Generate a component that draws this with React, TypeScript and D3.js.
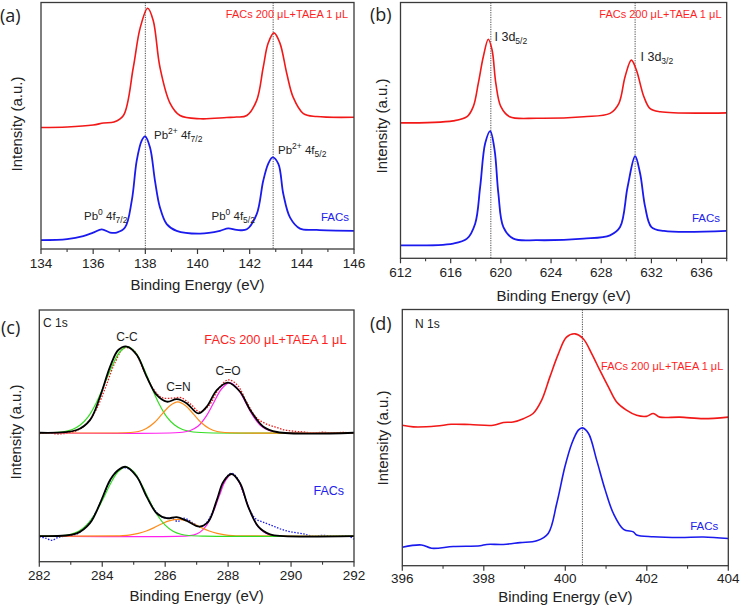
import React from "react";
import * as d3 from "d3";

type P = [number, number];

// ---------- Panel (a): Pb 4f ----------
const aTicks = [134, 136, 138, 140, 142, 144, 146];
const aMinor = [135, 137, 139, 141, 143, 145];
const aRefLines = [138.0, 142.9];
const aRed: P[] = [
  [134, 48.8], [135, 49.0], [136, 49.8], [136.4, 50.6], [136.8, 51.0], [137.16, 53.6],
  [137.54, 73.0], [137.8, 88.7], [138.09, 96.7], [138.3, 91.9], [138.56, 73.0],
  [138.95, 58.5], [139.33, 53.6], [140.1, 52.3], [141.12, 52.8], [141.5, 53.0],
  [141.89, 53.6], [142.27, 59.7], [142.52, 73.0], [142.71, 82.7], [142.93, 86.8],
  [143.16, 82.7], [143.42, 70.6], [143.67, 60.9], [144.06, 54.4], [144.57, 53.2], [146, 52.9],
];
const aBlue: P[] = [
  [134, 3.6], [135, 4.0], [135.62, 5.2], [136.0, 6.6], [136.33, 7.9], [136.65, 6.6],
  [136.9, 6.6], [137.22, 8.6], [137.48, 19.4], [137.67, 35.5], [137.86, 43.5],
  [137.99, 45.2], [138.18, 40.8], [138.37, 27.4], [138.56, 16.7], [138.82, 10.0],
  [139.2, 7.3], [140.1, 6.2], [140.86, 7.3], [141.18, 8.3], [141.5, 7.7], [141.89, 7.9],
  [142.27, 14.0], [142.52, 27.4], [142.71, 34.2], [142.88, 36.8], [143.1, 34.2],
  [143.29, 22.1], [143.55, 12.6], [143.93, 8.2], [144.57, 7.7], [146, 7.3],
];

// ---------- Panel (b): I 3d ----------
const bTicks = [612, 616, 620, 624, 628, 632, 636];
const bMinor = [614, 618, 622, 626, 630, 634, 638];
const bRefLines = [619.2, 630.7];
const bRed: P[] = [
  [612, 52.4], [616.2, 53.2], [617.3, 54.8], [617.8, 58.7], [618.2, 67.7], [618.6, 78.0],
  [619.0, 84.8], [619.3, 80.6], [619.6, 67.7], [620.0, 58.7], [620.7, 54.8], [622.9, 54.2],
  [626.6, 54.8], [628.7, 56.1], [629.4, 59.9], [629.9, 70.3], [630.4, 76.7], [630.8, 72.9],
  [631.4, 62.5], [631.9, 57.9], [632.7, 56.7], [638, 56.3],
];
const bBlue: P[] = [
  [612, 5.0], [616.2, 5.7], [617.3, 7.6], [617.95, 13.4], [618.35, 27.6], [618.75, 44.5],
  [619.15, 49.2], [619.5, 41.9], [619.8, 25.1], [620.2, 12.1], [621.0, 7.6], [622.9, 7.0],
  [626.6, 7.6], [628.7, 8.9], [629.5, 12.1], [630.1, 27.6], [630.7, 39.5], [631.1, 32.8],
  [631.5, 19.9], [632.0, 12.1], [633.0, 10.6], [638, 10.6],
];

// ---------- Panel (c): C 1s ----------
const cTicks = [282, 284, 286, 288, 290, 292];
const cMinor = [283, 285, 287, 289, 291];
const cTopData: P[] = [
  [282, 51.6], [282.3, 51.9], [282.6, 51.4], [282.9, 51.8], [283.2, 52.8], [283.5, 55.5],
  [283.8, 61], [284.1, 70], [284.4, 80], [284.7, 86], [285.0, 85], [285.3, 77.5],
  [285.6, 70], [285.9, 66], [286.2, 65.8], [286.5, 66], [286.8, 63.5], [287.1, 60.3],
  [287.4, 63], [287.7, 69.5], [288.0, 73.2], [288.3, 71], [288.6, 64], [288.9, 58],
  [289.2, 55.5], [289.5, 54.2], [289.8, 53], [290.1, 52.5], [290.4, 52.2], [290.7, 51.8],
  [291.0, 52.1], [291.3, 51.8], [291.6, 52], [292, 51.9],
];
const cTopFit: P[] = [
  [282, 51.9], [283.19, 53.0], [283.61, 57.0], [283.93, 66.4], [284.25, 78.5],
  [284.51, 85.2], [284.78, 86.6], [285.1, 83.2], [285.41, 74.5], [285.73, 67.1],
  [286.05, 64.4], [286.37, 65.4], [286.68, 63.8], [287.05, 59.7], [287.32, 62.4],
  [287.64, 69.1], [288.0, 72.1], [288.38, 68.4], [288.7, 61.1], [289.12, 54.3],
  [289.55, 52.2], [292, 51.9],
];
const cTopCC: P[] = [
  [282, 51.9], [282.3, 51.9], [282.8, 52.4], [283.05, 53.2], [283.3, 55.0], [283.55, 58.3],
  [283.8, 63.7], [284.05, 70.8], [284.3, 78.4], [284.55, 84.3], [284.8, 86.6], [285.05, 84.3],
  [285.3, 78.4], [285.55, 70.8], [285.8, 63.7], [286.05, 58.3], [286.3, 55.0], [286.55, 53.2],
  [286.8, 52.4], [287.3, 51.9], [292, 51.9],
];
const cTopCN: P[] = [
  [282, 51.9], [284.9, 52.0], [285.15, 52.4], [285.4, 53.6], [285.65, 55.9], [285.9, 59.4],
  [286.15, 62.8], [286.4, 64.3], [286.65, 62.8], [286.9, 59.4], [287.15, 55.9], [287.4, 53.6],
  [287.65, 52.4], [287.9, 52.0], [292, 51.9],
];
const cTopCO: P[] = [
  [282, 51.9], [286.55, 52.1], [286.8, 52.8], [287.05, 54.6], [287.3, 58.5], [287.55, 64.2],
  [287.8, 69.7], [288.05, 72.1], [288.3, 69.7], [288.55, 64.2], [288.8, 58.5], [289.05, 54.6],
  [289.3, 52.8], [289.55, 52.1], [292, 51.9],
];
const cBotData: P[] = [
  [282, 10.0], [282.2, 9.5], [282.4, 8.6], [282.6, 9.8], [282.9, 10.4], [283.2, 11.2],
  [283.5, 14.5], [283.8, 20], [284.1, 28.5], [284.4, 35.5], [284.7, 37.8], [285.0, 36],
  [285.3, 29.5], [285.6, 22], [285.9, 18], [286.2, 17.5], [286.4, 16.2], [286.6, 17.5],
  [286.9, 15.5], [287.1, 14.0], [287.3, 15.5], [287.5, 20], [287.7, 27], [287.9, 33],
  [288.1, 35.6], [288.3, 33.5], [288.5, 27], [288.7, 20.5], [288.9, 17], [289.1, 16],
  [289.4, 14.5], [289.7, 13], [290.0, 12.0], [290.4, 11.2], [290.7, 10.2], [291.0, 10.6],
  [291.4, 10.2], [291.8, 10.4], [292, 9.0],
];
const cBotFit: P[] = [
  [282, 10.3], [283.19, 11.4], [283.61, 15.5], [283.93, 23.5], [284.25, 32.9], [284.51, 36.9],
  [284.75, 38.2], [285.1, 34.2], [285.41, 26.2], [285.73, 19.5], [286.05, 17.5], [286.37, 17.9],
  [286.68, 16.5], [287.09, 14.1], [287.37, 16.1], [287.64, 24.8], [287.85, 32.2], [288.11, 35.3],
  [288.38, 31.6], [288.64, 22.1], [288.96, 14.1], [289.33, 11.0], [289.76, 10.3], [292, 10.3],
];
const cBotCC: P[] = [
  [282, 10.3], [282.75, 10.55], [283.0, 11.05], [283.25, 12.25], [283.5, 14.7], [283.75, 18.8],
  [284.0, 24.6], [284.25, 31.1], [284.5, 36.2], [284.75, 38.2], [285.0, 36.2], [285.25, 31.1],
  [285.5, 24.6], [285.75, 18.8], [286.0, 14.7], [286.25, 12.25], [286.5, 11.05], [286.75, 10.55],
  [287.25, 10.3], [292, 10.3],
];
const cBotCN: P[] = [
  [282, 10.3], [284.4, 10.4], [284.65, 10.5], [284.9, 10.8], [285.15, 11.4], [285.4, 12.35],
  [285.65, 13.7], [285.9, 15.3], [286.15, 16.5], [286.4, 17.0], [286.65, 16.5], [286.9, 15.3],
  [287.15, 13.7], [287.4, 12.35], [287.65, 11.4], [287.9, 10.8], [288.15, 10.5], [288.4, 10.4],
  [292, 10.3],
];
const cBotCO: P[] = [
  [282, 10.3], [286.72, 10.4], [286.92, 10.8], [287.12, 12.0], [287.32, 14.7], [287.52, 19.75],
  [287.72, 26.5], [287.92, 32.7], [288.12, 35.3], [288.32, 32.7], [288.52, 26.5], [288.72, 19.75],
  [288.92, 14.7], [289.12, 12.0], [289.32, 10.8], [289.52, 10.4], [292, 10.3],
];

// ---------- Panel (d): N 1s ----------
const dTicks = [396, 398, 400, 402, 404];
const dMinor = [397, 399, 401, 403];
const dRefLines = [400.42];
const dRed: P[] = [
  [396, 54.8], [396.27, 54.2], [396.84, 54.5], [397.2, 55.2], [397.66, 55.1], [398.23, 54.8],
  [398.48, 55.9], [398.72, 56.1], [398.97, 57.4], [399.21, 59.4], [399.42, 64.6], [399.62, 73.6],
  [399.83, 82.7], [400.03, 89.2], [400.24, 90.5], [400.44, 88.6], [400.65, 82.7], [400.85, 76.2],
  [401.06, 69.7], [401.26, 63.9], [401.5, 60.7], [401.75, 58.7], [401.99, 58.3], [402.16, 59.4],
  [402.32, 58.0], [402.81, 58.0], [403.39, 57.4], [404, 58.0],
];
const dBlue: P[] = [
  [396, 7.2], [396.47, 8.1], [396.72, 6.8], [397.25, 7.5], [397.91, 7.8], [398.07, 8.3],
  [398.48, 8.3], [398.89, 9.0], [399.3, 9.7], [399.58, 12.6], [399.79, 24.3], [399.99, 38.6],
  [400.16, 47.7], [400.32, 52.9], [400.42, 53.8], [400.57, 51.6], [400.77, 41.2], [400.98, 29.5],
  [401.18, 20.4], [401.43, 14.2], [401.67, 13.2], [401.75, 12.0], [402.16, 11.3], [402.81, 11.0],
  [403.39, 11.2], [404, 10.6],
];

const RED = "#f21818";
const BLUE = "#1a1aee";
const LABEL_RED = "#ff1f1f";
const LABEL_BLUE = "#2222ee";
const FONT = "Arial, 'Liberation Sans', Helvetica, sans-serif";
const PANEL_FONT = "'Open Sans', 'DejaVu Sans', sans-serif";

interface Series { data: P[]; color: string; width: number; dash?: string; }
interface PanelCfg {
  left: number; right: number; top: number; bottom: number;
  domain: [number, number]; ymax: number;
  ticks: number[]; minor: number[]; refLines: number[];
  series: Series[];
  tickBase: number; titleBase: number;
  ylab: [number, number];
}

const sub = (t: string) => (
  <tspan dy={3} fontSize={8.5}>{t}</tspan>
);

function Panel({ cfg, children }: { cfg: PanelCfg; children?: React.ReactNode }) {
  const x = d3.scaleLinear().domain(cfg.domain).range([cfg.left, cfg.right]);
  const y = d3.scaleLinear().domain([0, cfg.ymax]).range([cfg.bottom, cfg.top]);
  const line = d3.line<P>().x(d => x(d[0])).y(d => y(d[1])).curve(d3.curveCatmullRom.alpha(0.5));
  const cx = (cfg.left + cfg.right) / 2;
  return (
    <g>
      {cfg.refLines.map((e, i) => (
        <line key={"r" + i} x1={x(e)} x2={x(e)} y1={cfg.top} y2={cfg.bottom}
          stroke="#333" strokeWidth={0.9} strokeDasharray="1.2,1.2" />
      ))}
      {cfg.series.map((s, i) => (
        <path key={"s" + i} d={line(s.data) || ""} fill="none" stroke={s.color}
          strokeWidth={s.width} strokeDasharray={s.dash} strokeLinejoin="round" />
      ))}
      <rect x={cfg.left} y={cfg.top} width={cfg.right - cfg.left} height={cfg.bottom - cfg.top}
        fill="none" stroke="#3a3a3a" strokeWidth={1.3} />
      {cfg.ticks.map(t => (
        <g key={"t" + t}>
          <line x1={x(t)} x2={x(t)} y1={cfg.bottom} y2={cfg.bottom + 5} stroke="#3a3a3a" strokeWidth={1.2} />
          <text x={x(t)} y={cfg.tickBase} textAnchor="middle" fontSize={13.5} fill="#222" fontFamily={FONT}>{t}</text>
        </g>
      ))}
      {cfg.minor.map(t => (
        <line key={"m" + t} x1={x(t)} x2={x(t)} y1={cfg.bottom} y2={cfg.bottom + 3} stroke="#3a3a3a" strokeWidth={1.1} />
      ))}
      <text x={cx} y={cfg.titleBase} textAnchor="middle" fontSize={15} fill="#222" fontFamily={FONT}>Binding Energy (eV)</text>
      <text transform={`translate(${cfg.ylab[0]},${cfg.ylab[1]}) rotate(-90)`} textAnchor="middle"
        dominantBaseline="central" fontSize={15} fill="#222" fontFamily={FONT}>Intensity (a.u.)</text>
      {children}
    </g>
  );
}

const panelA: PanelCfg = {
  left: 41, right: 354, top: 2.5, bottom: 249, domain: [134, 146], ymax: 99,
  ticks: aTicks, minor: aMinor, refLines: aRefLines,
  series: [
    { data: aRed, color: RED, width: 1.6 },
    { data: aBlue, color: BLUE, width: 1.8 },
  ],
  tickBase: 268, titleBase: 290, ylab: [16, 124],
};
const panelB: PanelCfg = {
  left: 400.5, right: 726.7, top: 2.5, bottom: 258.3, domain: [612, 638], ymax: 99,
  ticks: bTicks, minor: bMinor, refLines: bRefLines,
  series: [
    { data: bRed, color: RED, width: 1.6 },
    { data: bBlue, color: BLUE, width: 1.8 },
  ],
  tickBase: 276.5, titleBase: 301, ylab: [381, 126],
};
const panelC: PanelCfg = {
  left: 39.3, right: 354, top: 310, bottom: 561.7, domain: [282, 292], ymax: 101.3,
  ticks: cTicks, minor: cMinor, refLines: [],
  series: [
    { data: cTopData, color: RED, width: 1.3, dash: "1.5,1.5" },
    { data: cTopCC, color: "#33dd22", width: 1.2 },
    { data: cTopCO, color: "#ff22ee", width: 1.2 },
    { data: cTopCN, color: "#ff8c1a", width: 1.2 },
    { data: cTopFit, color: "#000", width: 1.8 },
    { data: cBotData, color: BLUE, width: 1.3, dash: "1.5,1.5" },
    { data: cBotCO, color: "#ff22ee", width: 1.2 },
    { data: cBotCN, color: "#ff8c1a", width: 1.2 },
    { data: cBotCC, color: "#33dd22", width: 1.2 },
    { data: cBotFit, color: "#000", width: 1.8 },
  ],
  tickBase: 580, titleBase: 601, ylab: [15, 432],
};
const panelD: PanelCfg = {
  left: 402.3, right: 728.3, top: 309.5, bottom: 565.7, domain: [396, 404], ymax: 100,
  ticks: dTicks, minor: dMinor, refLines: dRefLines,
  series: [
    { data: dRed, color: RED, width: 1.6 },
    { data: dBlue, color: BLUE, width: 1.6 },
  ],
  tickBase: 583, titleBase: 602, ylab: [382, 438],
};

const mixLabel = "FACs 200 \u03bcL+TAEA 1 \u03bcL";

export default function App() {
  const t = { fontFamily: FONT, fill: "#222" } as const;
  return (
    <svg width={741} height={613} viewBox="0 0 741 613"
      style={{ position: "absolute", left: 0, top: 0, background: "#fff" }}>
      <rect x={0} y={0} width={741} height={613} fill="#fff" />
      <Panel cfg={panelA}>
        <text x={348} y={18} textAnchor="end" fontSize={11} fill={LABEL_RED} fontFamily={FONT}>{mixLabel}</text>
        <text x={349} y={220.5} textAnchor="end" fontSize={11.5} fill={LABEL_BLUE} fontFamily={FONT}>FACs</text>
        <text x={154} y={139} fontSize={11.5} {...t}>Pb<tspan dy={-5} fontSize={8.5}>2+</tspan><tspan dy={5}> 4f</tspan>{sub("7/2")}</text>
        <text x={278} y={153.5} fontSize={11.5} {...t}>Pb<tspan dy={-5} fontSize={8.5}>2+</tspan><tspan dy={5}> 4f</tspan>{sub("5/2")}</text>
        <text x={84} y={220} fontSize={11.5} {...t}>Pb<tspan dy={-5} fontSize={8.5}>0</tspan><tspan dy={5}> 4f</tspan>{sub("7/2")}</text>
        <text x={211.5} y={220} fontSize={11.5} {...t}>Pb<tspan dy={-5} fontSize={8.5}>0</tspan><tspan dy={5}> 4f</tspan>{sub("5/2")}</text>
      </Panel>
      <Panel cfg={panelB}>
        <text x={721.5} y={18.3} textAnchor="end" fontSize={11} fill={LABEL_RED} fontFamily={FONT}>{mixLabel}</text>
        <text x={720} y={221.5} textAnchor="end" fontSize={11.5} fill={LABEL_BLUE} fontFamily={FONT}>FACs</text>
        <text x={494.5} y={40.7} fontSize={12.5} {...t}>I 3d{sub("5/2")}</text>
        <text x={640.5} y={60.7} fontSize={12.5} {...t}>I 3d{sub("3/2")}</text>
      </Panel>
      <Panel cfg={panelC}>
        <text x={43} y={327} fontSize={12} {...t}>C 1s</text>
        <text x={346.5} y={344} textAnchor="end" fontSize={12.8} fill={LABEL_RED} fontFamily={FONT}>{mixLabel}</text>
        <text x={344} y={495} textAnchor="end" fontSize={12.5} fill={LABEL_BLUE} fontFamily={FONT}>FACs</text>
        <text x={127} y={340.7} textAnchor="middle" fontSize={12} {...t}>C-C</text>
        <text x={178.5} y={390.7} textAnchor="middle" fontSize={12} {...t}>C=N</text>
        <text x={228} y={375} textAnchor="middle" fontSize={12} {...t}>C=O</text>
      </Panel>
      <Panel cfg={panelD}>
        <text x={415} y={328} fontSize={12} {...t}>N 1s</text>
        <text x={723.3} y={370} textAnchor="end" fontSize={11} fill={LABEL_RED} fontFamily={FONT}>{mixLabel}</text>
        <text x={718.3} y={530} textAnchor="end" fontSize={11.5} fill={LABEL_BLUE} fontFamily={FONT}>FACs</text>
      </Panel>
      <text x={0} y={22} fontSize={18} fontFamily={PANEL_FONT} fill="#222">(a)</text>
      <text x={370} y={21} fontSize={18} fontFamily={PANEL_FONT} fill="#222">(b)</text>
      <text x={1} y={334} fontSize={18} fontFamily={PANEL_FONT} fill="#222">(c)</text>
      <text x={370} y={330} fontSize={18} fontFamily={PANEL_FONT} fill="#222">(d)</text>
    </svg>
  );
}
